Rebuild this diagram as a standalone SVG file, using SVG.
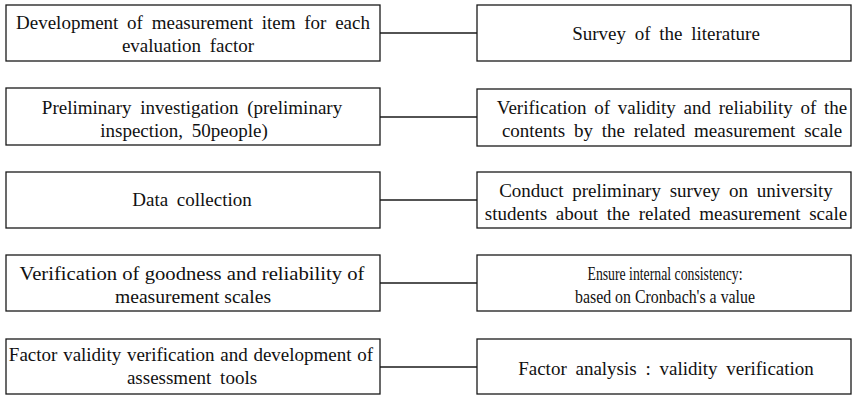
<svg xmlns="http://www.w3.org/2000/svg" width="852" height="395" viewBox="0 0 852 395">
<style>
.box{fill:#fff;stroke:#1a1a1a;stroke-width:1.3}
text{font-family:'Liberation Serif','Times New Roman','DejaVu Serif',serif;font-size:19px;fill:#111;text-anchor:middle}
.t{word-spacing:4px}
.ln{stroke:#1a1a1a;stroke-width:1.3;fill:none}
</style>
<rect width="852" height="395" fill="#fff"/>
<g id="connectors">
<line class="ln" x1="380" y1="33" x2="477" y2="33"/>
<line class="ln" x1="380" y1="117" x2="477" y2="117"/>
<line class="ln" x1="380" y1="200" x2="477" y2="200"/>
<line class="ln" x1="380" y1="283" x2="477" y2="283"/>
<line class="ln" x1="380" y1="367" x2="477" y2="367"/>
</g>
<g id="n1">
<rect class="box" x="6" y="5" width="374" height="56"/>
<text class="t" x="193" y="29">Development of measurement item for each</text>
<text class="t" x="188" y="52">evaluation factor</text>
</g>
<g id="n2">
<rect class="box" x="477" y="5" width="374" height="56"/>
<text class="t" x="666" y="40">Survey of the literature</text>
</g>
<g id="n3">
<rect class="box" x="6" y="88" width="374" height="57"/>
<text class="t" x="192" y="114">Preliminary investigation (preliminary</text>
<text class="t" x="184" y="137">inspection, 50people)</text>
</g>
<g id="n4">
<rect class="box" x="477" y="89" width="374" height="57"/>
<text class="t" x="672" y="114" style="word-spacing:3px">Verification of validity and reliability of the</text>
<text class="t" x="672" y="137">contents by the related measurement scale</text>
</g>
<g id="n5">
<rect class="box" x="6" y="172" width="374" height="56"/>
<text class="t" x="192" y="206">Data collection</text>
</g>
<g id="n6">
<rect class="box" x="477" y="172" width="374" height="56"/>
<text class="t" x="666" y="197">Conduct preliminary survey on university</text>
<text class="t" x="666" y="220">students about the related measurement scale</text>
</g>
<g id="n7">
<rect class="box" x="6" y="255" width="374" height="56"/>
<text x="192" y="280" textLength="345" lengthAdjust="spacingAndGlyphs">Verification of goodness and reliability of</text>
<text x="193" y="303" textLength="156" lengthAdjust="spacingAndGlyphs">measurement scales</text>
</g>
<g id="n8">
<rect class="box" x="477" y="255" width="374" height="56"/>
<text x="665" y="280" textLength="155" lengthAdjust="spacingAndGlyphs">Ensure internal consistency:</text>
<text x="665" y="303" textLength="180" lengthAdjust="spacingAndGlyphs">based on Cronbach's a value</text>
</g>
<g id="n9">
<rect class="box" x="6" y="339" width="374" height="55"/>
<text class="t" x="191" y="361" style="word-spacing:1px">Factor validity verification and development of</text>
<text class="t" x="192" y="384">assessment tools</text>
</g>
<g id="n10">
<rect class="box" x="477" y="339" width="374" height="55"/>
<text class="t" x="666" y="375">Factor analysis : validity verification</text>
</g>
</svg>
